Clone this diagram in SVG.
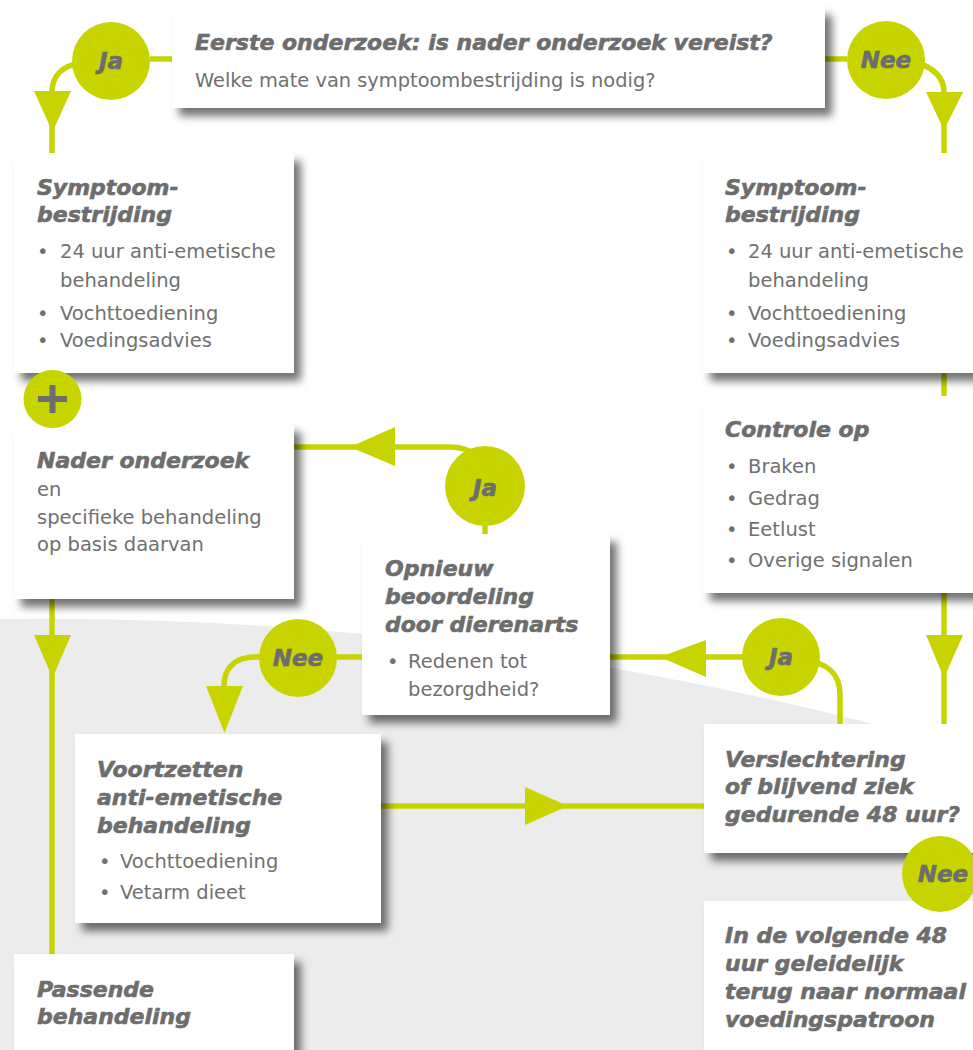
<svg xmlns="http://www.w3.org/2000/svg" width="973" height="1050" viewBox="0 0 973 1050">
<defs>
<filter id="sh" x="-10%" y="-10%" width="130%" height="140%">
<feDropShadow dx="7" dy="8" stdDeviation="4" flood-color="#000" flood-opacity="0.55"/>
</filter>
<style>
.box{fill:#fff;filter:url(#sh)}
.ln{fill:none;stroke:#c8d400;stroke-width:5.5}
.ar{fill:#c8d400}
.cir{fill:#c8d400}
.t{font-family:"DejaVu Sans",sans-serif;font-weight:bold;font-style:italic;font-size:22px;fill:#6d6d6d;stroke:#6d6d6d;stroke-width:0.6}
.b{font-family:"DejaVu Sans",sans-serif;font-size:19.5px;fill:#707070}
.s{font-family:"DejaVu Sans",sans-serif;font-size:19.4px;fill:#707070}
.c{font-family:"DejaVu Sans",sans-serif;font-weight:bold;font-style:italic;font-size:23px;fill:#6d6d6d;stroke:#6d6d6d;stroke-width:0.6;text-anchor:middle}
</style>
</defs>
<rect width="973" height="1050" fill="#fff"/>
<path d="M0,619 Q486,612 973,751 L973,1050 L0,1050 Z" fill="#ececec"/>

<g id="connectors">
<path class="ln" d="M150,59 L172,59"/>
<path class="ln" d="M825,59 L847,59"/>
<path class="ln" d="M80,63 C62,66 52,76 52,92 L52,155"/>
<polygon class="ar" points="34,91 71,91 52.5,132"/>
<path class="ln" d="M915,62 C935,68 944,78 944,92 L944,724"/>
<polygon class="ar" points="926,92 963,92 944,130"/>
<polygon class="ar" points="926,635 963,635 944,678"/>
<path class="ln" d="M52,598 L52,956"/>
<polygon class="ar" points="34,635 71,635 52.5,678"/>
<path class="ln" d="M294,447 L450,447 C462,447 470,450 478,456"/>
<polygon class="ar" points="350,447 395,427 395,466"/>
<path class="ln" d="M485,486 L485,536"/>
<path class="ln" d="M298,657 L362,657"/>
<path class="ln" d="M270,657 L255,657 C235,657 224,668 224,686"/>
<polygon class="ar" points="206,686 243,686 224.5,733"/>
<path class="ln" d="M609,657 L781,657"/>
<polygon class="ar" points="660,657 706,640 706,677"/>
<path class="ln" d="M800,660 C830,662 840,675 840,695 L840,726"/>
<path class="ln" d="M381,806 L706,806"/>
<polygon class="ar" points="568,806 525,787 525,825"/>
</g>

<g id="n-top">
<rect class="box" x="172" y="7" width="653" height="101"/>
<text class="t" x="195" y="50">Eerste onderzoek: is nader onderzoek vereist?</text>
<text class="s" x="195" y="87">Welke mate van symptoombestrijding is nodig?</text>
</g>

<g id="n-symp-left">
<rect class="box" x="14" y="153" width="280" height="220"/>
<text class="t" x="37" y="195">Symptoom-</text>
<text class="t" x="37" y="222">bestrijding</text>
<text class="b" x="37" y="258">•</text>
<text class="b" x="60" y="258">24 uur anti-emetische</text>
<text class="b" x="60" y="287">behandeling</text>
<text class="b" x="37" y="320">•</text>
<text class="b" x="60" y="320">Vochttoediening</text>
<text class="b" x="37" y="347">•</text>
<text class="b" x="60" y="347">Voedingsadvies</text>
</g>

<g id="n-nader">
<rect class="box" x="14" y="424" width="280" height="175"/>
<text class="t" x="37" y="468">Nader onderzoek</text>
<text class="b" x="37" y="496">en</text>
<text class="b" x="37" y="524">specifieke behandeling</text>
<text class="b" x="37" y="551">op basis daarvan</text>
</g>

<g id="n-opnieuw">
<rect class="box" x="362" y="534" width="248" height="181"/>
<text class="t" x="385" y="576">Opnieuw</text>
<text class="t" x="385" y="604">beoordeling</text>
<text class="t" x="385" y="632">door dierenarts</text>
<text class="b" x="387" y="668">•</text>
<text class="b" x="408" y="668">Redenen tot</text>
<text class="b" x="408" y="696">bezorgdheid?</text>
</g>

<g id="n-voortzetten">
<rect class="box" x="75" y="734" width="306" height="189"/>
<text class="t" x="97" y="777">Voortzetten</text>
<text class="t" x="97" y="805">anti-emetische</text>
<text class="t" x="97" y="833">behandeling</text>
<text class="b" x="99" y="868">•</text>
<text class="b" x="120" y="868">Vochttoediening</text>
<text class="b" x="99" y="899">•</text>
<text class="b" x="120" y="899">Vetarm dieet</text>
</g>

<g id="n-passende">
<rect class="box" x="14" y="954" width="280" height="120"/>
<text class="t" x="37" y="997">Passende</text>
<text class="t" x="37" y="1024">behandeling</text>
</g>

<g id="n-symp-right">
<rect class="box" x="703" y="153" width="290" height="220"/>
<text class="t" x="725" y="195">Symptoom-</text>
<text class="t" x="725" y="222">bestrijding</text>
<text class="b" x="726" y="258">•</text>
<text class="b" x="748" y="258">24 uur anti-emetische</text>
<text class="b" x="748" y="287">behandeling</text>
<text class="b" x="726" y="320">•</text>
<text class="b" x="748" y="320">Vochttoediening</text>
<text class="b" x="726" y="347">•</text>
<text class="b" x="748" y="347">Voedingsadvies</text>
</g>

<g id="n-controle">
<rect class="box" x="703" y="396" width="290" height="197"/>
<text class="t" x="725" y="437">Controle op</text>
<text class="b" x="726" y="473">•</text>
<text class="b" x="748" y="473">Braken</text>
<text class="b" x="726" y="505">•</text>
<text class="b" x="748" y="505">Gedrag</text>
<text class="b" x="726" y="536">•</text>
<text class="b" x="748" y="536">Eetlust</text>
<text class="b" x="726" y="567">•</text>
<text class="b" x="748" y="567">Overige signalen</text>
</g>

<g id="n-verslechtering">
<rect class="box" x="704" y="724" width="290" height="129"/>
<text class="t" x="725" y="767">Verslechtering</text>
<text class="t" x="725" y="794">of blijvend ziek</text>
<text class="t" x="725" y="822">gedurende 48 uur?</text>
</g>

<g id="n-volgende">
<rect class="box" x="704" y="901" width="290" height="170"/>
<text class="t" x="725" y="943">In de volgende 48</text>
<text class="t" x="725" y="971">uur geleidelijk</text>
<text class="t" x="725" y="999">terug naar normaal</text>
<text class="t" x="725" y="1027">voedingspatroon</text>
</g>

<g id="c-ja-top"><circle class="cir" cx="111" cy="61" r="39"/><text class="c" x="111" y="69">Ja</text></g>
<g id="c-nee-top"><circle class="cir" cx="886" cy="60" r="39"/><text class="c" x="886" y="68">Nee</text></g>
<g id="c-plus"><circle class="cir" cx="52.5" cy="399" r="29"/><path d="M38,399 H67 M52.5,385 V413" stroke="#6d6d6d" stroke-width="6" fill="none"/></g>
<g id="c-ja-mid"><circle class="cir" cx="485" cy="486" r="40"/><text class="c" x="485" y="496">Ja</text></g>
<g id="c-nee-mid"><circle class="cir" cx="298" cy="658" r="39"/><text class="c" x="298" y="666">Nee</text></g>
<g id="c-ja-right"><circle class="cir" cx="781" cy="657" r="39"/><text class="c" x="781" y="665">Ja</text></g>
<g id="c-nee-bottom"><circle class="cir" cx="940" cy="874" r="38"/><text class="c" x="943" y="882">Nee</text></g>
</svg>
